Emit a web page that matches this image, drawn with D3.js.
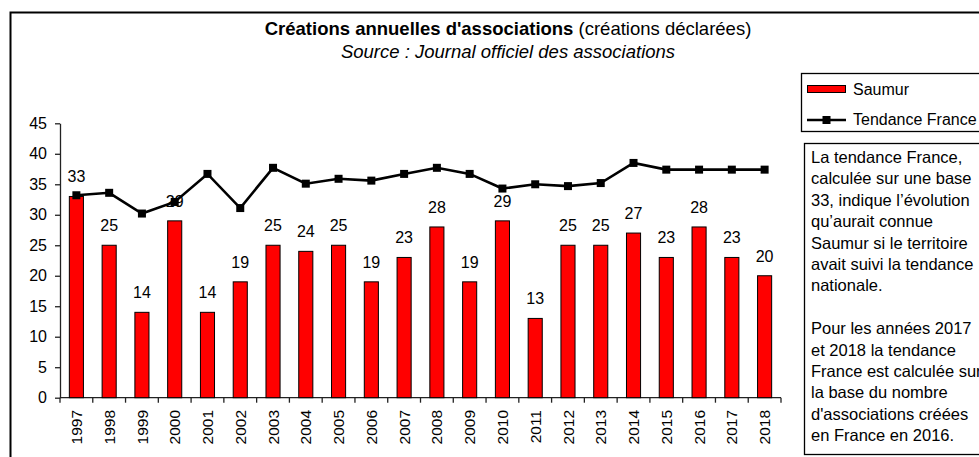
<!DOCTYPE html>
<html>
<head>
<meta charset="utf-8">
<script src="https://cdn.jsdelivr.net/npm/d3@7"></script>
<style>
  body { margin: 0; background: #fff; }
  svg { display: block; font-family: "Liberation Sans", Arial, sans-serif; }
</style>
</head>
<body>
<svg id="chart"></svg>
<script>
// Data
var years = ['1997','1998','1999','2000','2001','2002','2003','2004','2005','2006','2007',
             '2008','2009','2010','2011','2012','2013','2014','2015','2016','2017','2018'];
var saumur = [33,25,14,29,14,19,25,24,25,19,23,28,19,29,13,25,25,27,23,28,23,20];
var tendance = [33.2,33.6,30.2,32.1,36.7,31.1,37.7,35.1,35.9,35.6,36.7,
                37.7,36.7,34.3,35.0,34.7,35.2,38.5,37.4,37.4,37.4,37.4];
var yTicks = [0,5,10,15,20,25,30,35,40,45];
var seriesNames = ['Saumur','Tendance France'];
var noteLines = [
  'La tendance France,',
  'calculée sur une base',
  '33, indique l\u2019évolution',
  'qu\u2019aurait connue',
  'Saumur si le territoire',
  'avait suivi la tendance',
  'nationale.',
  '',
  'Pour les années 2017',
  'et 2018 la tendance',
  'France est calculée sur',
  'la base du nombre',
  'd\'associations créées',
  'en France en 2016.'
];

var width = 979, height = 457;

var svg = d3.select('#chart')
  .attr('width', width)
  .attr('height', height);

svg.append('rect')
  .attr('width', width).attr('height', height)
  .attr('fill', '#fff');

// outer frame (runs off the right and bottom edges)
svg.append('rect')
  .attr('x', 10.5).attr('y', 12.5)
  .attr('width', 1000).attr('height', 500)
  .attr('fill', 'none')
  .attr('stroke', '#000')
  .attr('stroke-width', 2);

// Title
var title = svg.append('text')
  .attr('x', 508).attr('y', 35)
  .attr('text-anchor', 'middle')
  .style('font-size', '18.5px');
title.append('tspan').attr('font-weight', 'bold').text('Créations annuelles d\'associations');
title.append('tspan').text(' (créations déclarées)');

svg.append('text')
  .attr('x', 508).attr('y', 58)
  .attr('text-anchor', 'middle')
  .style('font-size', '18.5px')
  .style('font-style', 'italic')
  .text('Source : Journal officiel des associations');

// Scales
var x = d3.scaleBand()
  .domain(years)
  .range([60, 781]);

var y = d3.scaleLinear()
  .domain([0, 45])
  .range([397.7, 123.3]);

// Y axis
var yAxis = svg.append('g')
  .attr('transform', 'translate(60,0)')
  .call(d3.axisLeft(y).tickValues(yTicks).tickSize(5).tickSizeOuter(0).tickPadding(8));
yAxis.select('.domain').attr('stroke', '#222').attr('stroke-width', 1.3);
yAxis.selectAll('.tick line').attr('stroke', '#222').attr('stroke-width', 1.3);
yAxis.selectAll('.tick text')
  .style('font-size', '16px')
  .style('font-family', '"Liberation Sans", Arial, sans-serif')
  .attr('fill', '#000');

// X axis: baseline, ticks between categories, rotated year labels
var xAxis = svg.append('g');
xAxis.append('line')
  .attr('x1', x.range()[0]).attr('x2', x.range()[1])
  .attr('y1', y(0)).attr('y2', y(0))
  .attr('stroke', '#222').attr('stroke-width', 1.3);

var bounds = years.map(function(d){ return x(d); }).concat([x.range()[1]]);
xAxis.selectAll('line.tick')
  .data(bounds)
  .enter().append('line')
  .attr('class', 'tick')
  .attr('x1', function(d){ return d; })
  .attr('x2', function(d){ return d; })
  .attr('y1', y(0))
  .attr('y2', y(0) + 5)
  .attr('stroke', '#222').attr('stroke-width', 1.3);

xAxis.selectAll('text')
  .data(years)
  .enter().append('text')
  .attr('transform', function(d){
    return 'translate(' + (x(d) + x.bandwidth()/2) + ',410) rotate(-90)';
  })
  .attr('text-anchor', 'end')
  .attr('dy', '0.36em')
  .style('font-size', '15.5px')
  .text(function(d){ return d; });

// Bars
var barW = x.bandwidth() * 0.43;
var bars = svg.append('g');
bars.selectAll('rect')
  .data(saumur)
  .enter().append('rect')
  .attr('x', function(d,i){ return x(years[i]) + (x.bandwidth() - barW)/2; })
  .attr('y', function(d){ return y(d); })
  .attr('width', barW)
  .attr('height', function(d){ return y(0) - y(d); })
  .attr('fill', '#ff0000')
  .attr('stroke', '#000')
  .attr('stroke-width', 1);

// Value labels above the bars
bars.selectAll('text')
  .data(saumur)
  .enter().append('text')
  .attr('x', function(d,i){ return x(years[i]) + x.bandwidth()/2; })
  .attr('y', function(d){ return y(d) - 14; })
  .attr('text-anchor', 'middle')
  .style('font-size', '16px')
  .text(function(d){ return d; });

// Tendance France line
var line = d3.line()
  .x(function(d,i){ return x(years[i]) + x.bandwidth()/2; })
  .y(function(d){ return y(d); });

svg.append('path')
  .datum(tendance)
  .attr('d', line)
  .attr('fill', 'none')
  .attr('stroke', '#000')
  .attr('stroke-width', 2.6);

svg.append('g').selectAll('rect')
  .data(tendance)
  .enter().append('rect')
  .attr('x', function(d,i){ return x(years[i]) + x.bandwidth()/2 - 4; })
  .attr('y', function(d){ return y(d) - 4; })
  .attr('width', 8).attr('height', 8)
  .attr('fill', '#000');

// Legend
var legend = svg.append('g');
legend.append('rect')
  .attr('x', 801.5).attr('y', 73.5)
  .attr('width', 200).attr('height', 58)
  .attr('fill', '#fff').attr('stroke', '#000').attr('stroke-width', 1.3);
legend.append('rect')
  .attr('x', 807.5).attr('y', 85.5)
  .attr('width', 38).attr('height', 7)
  .attr('fill', '#ff0000').attr('stroke', '#000').attr('stroke-width', 1);
legend.append('line')
  .attr('x1', 807).attr('x2', 846)
  .attr('y1', 120).attr('y2', 120)
  .attr('stroke', '#000').attr('stroke-width', 2.6);
legend.append('rect')
  .attr('x', 822.5).attr('y', 116)
  .attr('width', 8).attr('height', 8)
  .attr('fill', '#000');
legend.selectAll('text')
  .data(seriesNames)
  .enter().append('text')
  .attr('x', 853)
  .attr('y', function(d,i){ return 95 + i*29.5; })
  .style('font-size', '16px')
  .text(function(d){ return d; });

// Note box
var note = svg.append('g');
note.append('rect')
  .attr('x', 804.5).attr('y', 143.5)
  .attr('width', 200).attr('height', 311)
  .attr('fill', '#fff').attr('stroke', '#000').attr('stroke-width', 1.3);
note.selectAll('text')
  .data(noteLines)
  .enter().append('text')
  .attr('x', 811)
  .attr('y', function(d,i){ return 163 + i*21.4; })
  .style('font-size', '16.5px')
  .text(function(d){ return d; });
</script>
</body>
</html>
